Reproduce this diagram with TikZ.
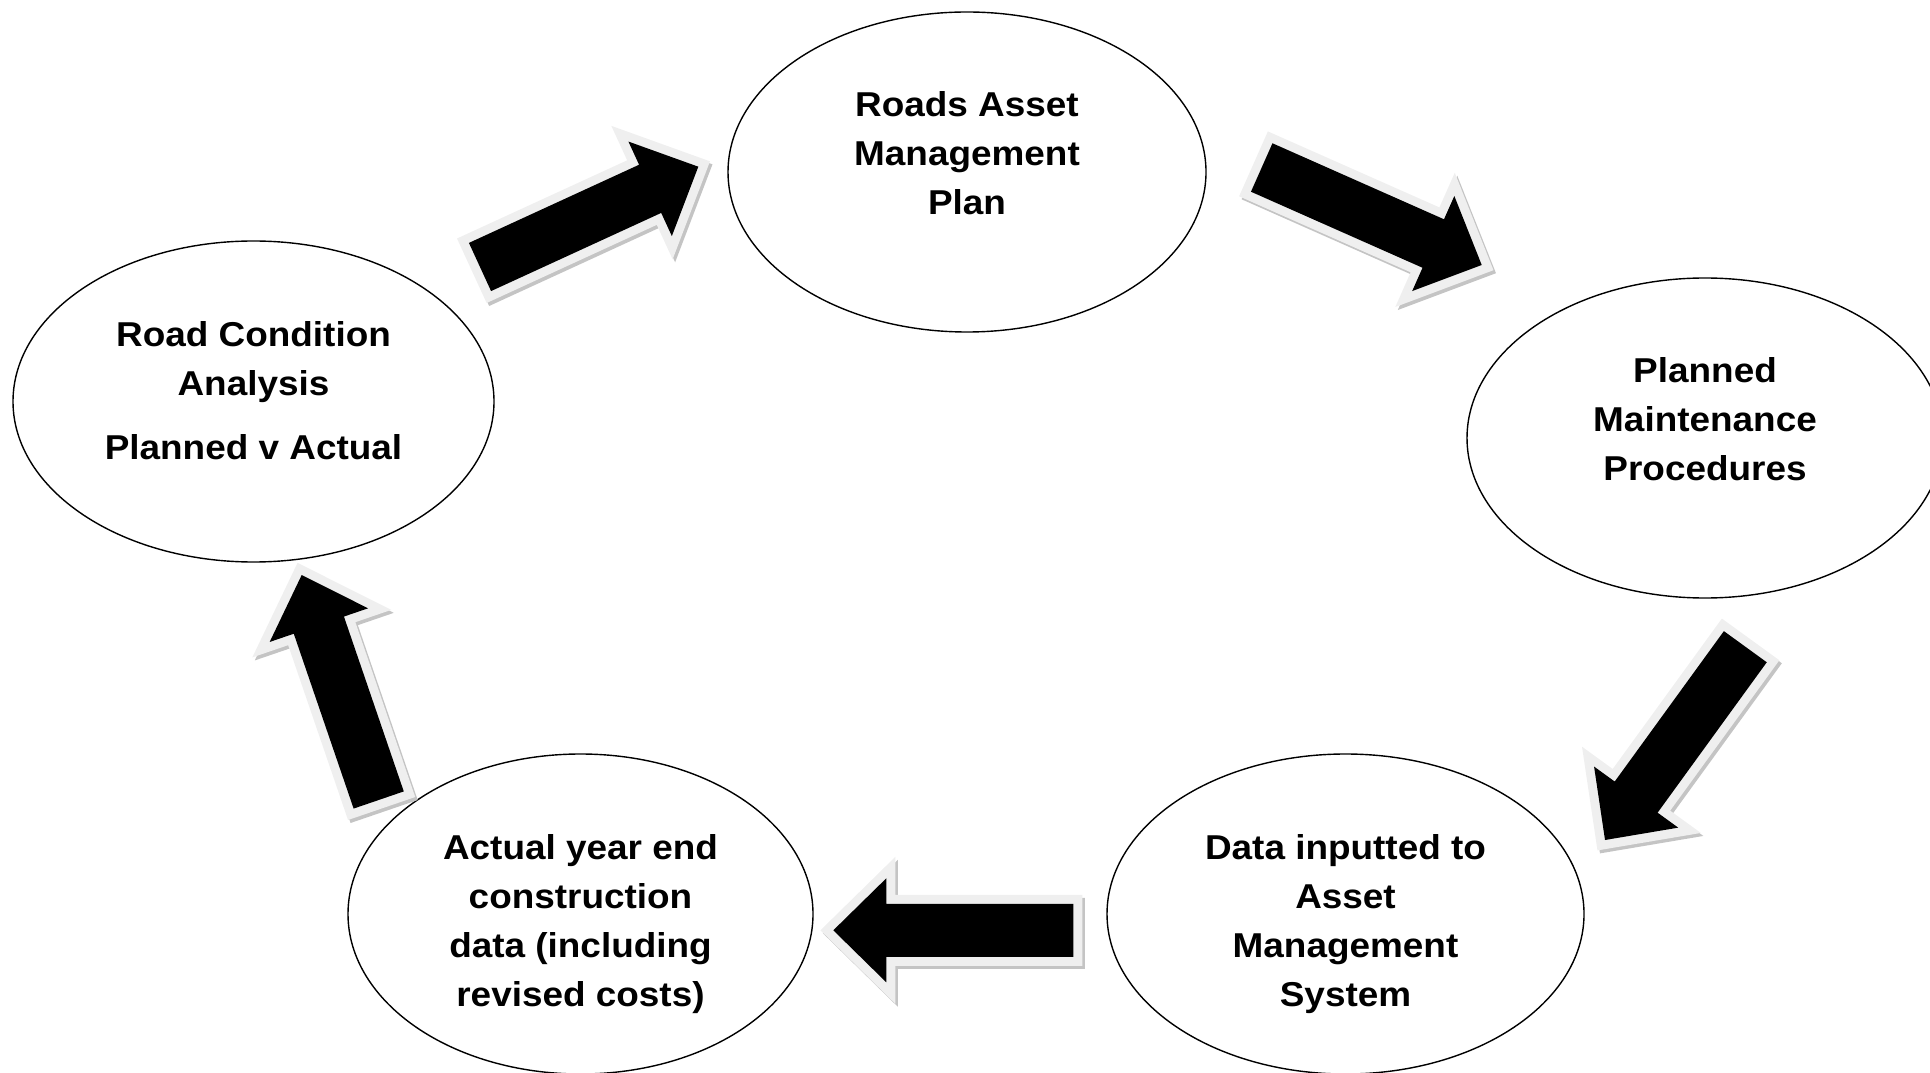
\documentclass[tikz,border=0pt]{standalone}
\usepackage{fontspec}
\setmainfont{Liberation Sans}[FakeStretch=1.07]
\usetikzlibrary{calc,shapes.geometric}

\definecolor{rimgray}{HTML}{EFEFEF}
\definecolor{shadegray}{HTML}{C4C4C4}

% block arrow sizes (half shaft, half head, head length)
\newcommand{\shafthalf}{13.25pt}
\newcommand{\headhalf}{26pt}
\newcommand{\headlen}{26.5pt}

\begin{document}
\begin{tikzpicture}[
  x=0.5pt, y=0.5pt,
  stage/.style={ellipse, draw=black, line width=0.7pt, inner sep=0pt},
  lbl/.style={font=\fontsize{17.25pt}{24.5pt}\selectfont\bfseries, align=center, inner sep=0pt},
  flow/.style={fill=black,
    preaction={fill=shadegray, draw=shadegray, line width=9pt, line join=miter,
      transform canvas={xshift=1.25pt, yshift=-1.5pt}},
    preaction={draw=rimgray, line width=9pt, line join=miter},
    to path={($(\tikztostart)!\shafthalf!90:(\tikztotarget)$)
      -- ($(\tikztotarget)!\headlen!(\tikztostart)!\shafthalf!90:(\tikztotarget)$)
      -- ($(\tikztotarget)!\headlen!(\tikztostart)!\headhalf!90:(\tikztotarget)$)
      -- (\tikztotarget)
      -- ($(\tikztotarget)!\headlen!(\tikztostart)!\headhalf!-90:(\tikztotarget)$)
      -- ($(\tikztotarget)!\headlen!(\tikztostart)!\shafthalf!-90:(\tikztotarget)$)
      -- ($(\tikztostart)!\shafthalf!-90:(\tikztotarget)$) -- cycle}}
]
\useasboundingbox (0,0) rectangle (1930,1072);

% Stages
\node[stage, minimum width=239pt, minimum height=160pt] (plan)   at (967,900) {};
\node[stage, minimum width=238pt, minimum height=160pt] (maint)  at (1705,634) {};
\node[stage, minimum width=238.5pt, minimum height=160pt] (data) at (1345.5,158) {};
\node[stage, minimum width=232.5pt, minimum height=160pt] (actual) at (580.5,158) {};
\node[stage, minimum width=240.5pt, minimum height=160.5pt] (cond) at (253.5,670.5) {};

\node[lbl] (plantxt)   at ($(plan)+(0,18.5)$)   {Roads Asset\\Management\\Plan};
\node[lbl] (mainttxt)  at ($(maint)+(0,18.5)$)  {Planned\\Maintenance\\Procedures};
\node[lbl] (datatxt)   at ($(data)+(0,-10)$)    {Data inputted to\\Asset\\Management\\System};
\node[lbl] (actualtxt) at ($(actual)+(0,-10)$)  {Actual year end\\construction\\data (including\\revised costs)};
\node[lbl] (condtxt)   at ($(cond)+(0,11)$)     {Road Condition\\Analysis\\[7.5pt]Planned v Actual};

% Arrow ends
\coordinate (a1s) at (480,805);     \coordinate (a1e) at (698.3,905.3);
\coordinate (a2s) at (1261.7,904.5); \coordinate (a2e) at (1481.7,807);
\coordinate (a3s) at (1745.3,425.3); \coordinate (a3e) at (1605,232);
\coordinate (a4s) at (1073.3,141.7); \coordinate (a4e) at (833.3,141.7);
\coordinate (a5s) at (378.7,272);    \coordinate (a5e) at (301.7,497);

% Arrows between stages
\path[flow] (a1s) to (a1e);
\path[flow] (a2s) to (a2e);
\path[flow] (a3s) to (a3e);
\path[flow] (a4s) to (a4e);
\path[flow] (a5s) to (a5e);

\end{tikzpicture}
\end{document}
